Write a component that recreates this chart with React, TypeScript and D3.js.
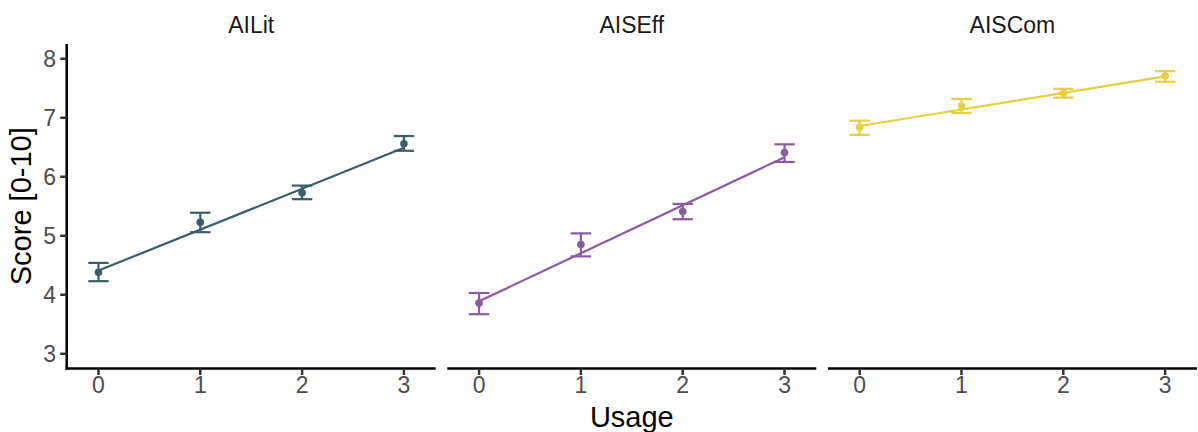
import React from "react";
import * as d3 from "d3";

// Facets and their colours
const facets = ["AILit", "AISEff", "AISCom"];
const colors = ["#385F68", "#8B5AA3", "#E8CE42"];

// Usage levels on the x axis
const usage = [0, 1, 2, 3];

// Mean scores per usage level
const meanAILit = [4.38, 5.23, 5.73, 6.56];
const meanAISEff = [3.86, 4.85, 5.41, 6.41];
const meanAISCom = [6.84, 7.2, 7.42, 7.71];

// Error bar bounds
const lowAILit = [4.23, 5.06, 5.62, 6.44];
const highAILit = [4.54, 5.39, 5.85, 6.69];
const lowAISEff = [3.67, 4.65, 5.28, 6.25];
const highAISEff = [4.03, 5.04, 5.54, 6.55];
const lowAISCom = [6.71, 7.08, 7.34, 7.61];
const highAISCom = [6.95, 7.32, 7.49, 7.79];

// Fitted regression line at usage 0 and usage 3
const fitStart = [4.41, 3.89, 6.86];
const fitEnd = [6.49, 6.33, 7.7];

const yTicks = [3, 4, 5, 6, 7, 8];
const xTicks = [0, 1, 2, 3];

const means = [meanAILit, meanAISEff, meanAISCom];
const lows = [lowAILit, lowAISEff, lowAISCom];
const highs = [highAILit, highAISEff, highAISCom];

const W = 1198;
const H = 432;
const panelLeft = 66.7;
const panelTop = 44;
const panelBottom = 368.5;
const panelW = 369;
const gap = 11.6;
const capHalf = 0.1;

const font = "'Liberation Sans', Arial, sans-serif";

export default function App() {
  const x = d3.scaleLinear().domain([-0.312, 3.312]).range([0, panelW]);
  const y = d3.scaleLinear().domain([2.75, 8.25]).range([panelBottom, panelTop]);
  const line = d3
    .line<[number, number]>()
    .x((d) => x(d[0]))
    .y((d) => y(d[1]));

  const totalRight = panelLeft + 3 * panelW + 2 * gap;

  return (
    <svg
      width={W}
      height={H}
      style={{ position: "absolute", left: 0, top: 0, background: "#fff" }}
      fontFamily={font}
    >
      <rect width={W} height={H} fill="#fff" />
      {/* y axis on the first panel */}
      <g>
        <line
          x1={panelLeft}
          x2={panelLeft}
          y1={panelTop}
          y2={panelBottom + 1.25}
          stroke="#000"
          strokeWidth={2.5}
        />
        {yTicks.map((t) => (
          <g key={t}>
            <line
              x1={panelLeft - 6.5}
              x2={panelLeft}
              y1={y(t)}
              y2={y(t)}
              stroke="#333"
              strokeWidth={2.5}
            />
            <text
              x={56}
              y={y(t)}
              dy="0.36em"
              textAnchor="end"
              fontSize={23}
              fill="#4d4d4d"
            >
              {t}
            </text>
          </g>
        ))}
      </g>
      {facets.map((name, i) => {
        const left = panelLeft + i * (panelW + gap);
        const col = colors[i];
        return (
          <g key={name} transform={`translate(${left},0)`}>
            <text
              x={panelW / 2}
              y={33}
              textAnchor="middle"
              fontSize={23}
              fill="#1a1a1a"
            >
              {name}
            </text>
            <line
              x1={i === 0 ? -1.25 : 0}
              x2={panelW}
              y1={panelBottom}
              y2={panelBottom}
              stroke="#000"
              strokeWidth={2.5}
            />
            {xTicks.map((t) => (
              <g key={t}>
                <line
                  x1={x(t)}
                  x2={x(t)}
                  y1={panelBottom}
                  y2={panelBottom + 6.5}
                  stroke="#333"
                  strokeWidth={2.5}
                />
                <text
                  x={x(t)}
                  y={393}
                  textAnchor="middle"
                  fontSize={23}
                  fill="#4d4d4d"
                >
                  {t}
                </text>
              </g>
            ))}
            <path
              d={line([
                [0, fitStart[i]],
                [3, fitEnd[i]],
              ]) as string}
              fill="none"
              stroke={col}
              strokeWidth={2.2}
            />
            {usage.map((u, j) => (
              <g key={u} stroke={col} strokeWidth={2.2}>
                <line x1={x(u)} x2={x(u)} y1={y(lows[i][j])} y2={y(highs[i][j])} />
                <line
                  x1={x(u - capHalf)}
                  x2={x(u + capHalf)}
                  y1={y(lows[i][j])}
                  y2={y(lows[i][j])}
                />
                <line
                  x1={x(u - capHalf)}
                  x2={x(u + capHalf)}
                  y1={y(highs[i][j])}
                  y2={y(highs[i][j])}
                />
                <circle cx={x(u)} cy={y(means[i][j])} r={3.8} fill={col} stroke="none" />
              </g>
            ))}
          </g>
        );
      })}
      <text
        x={(panelLeft + totalRight) / 2}
        y={427}
        textAnchor="middle"
        fontSize={29}
        fill="#000"
      >
        Usage
      </text>
      <text
        transform={`translate(31,${(panelTop + panelBottom) / 2}) rotate(-90)`}
        textAnchor="middle"
        fontSize={29}
        fill="#000"
      >
        Score [0-10]
      </text>
    </svg>
  );
}
